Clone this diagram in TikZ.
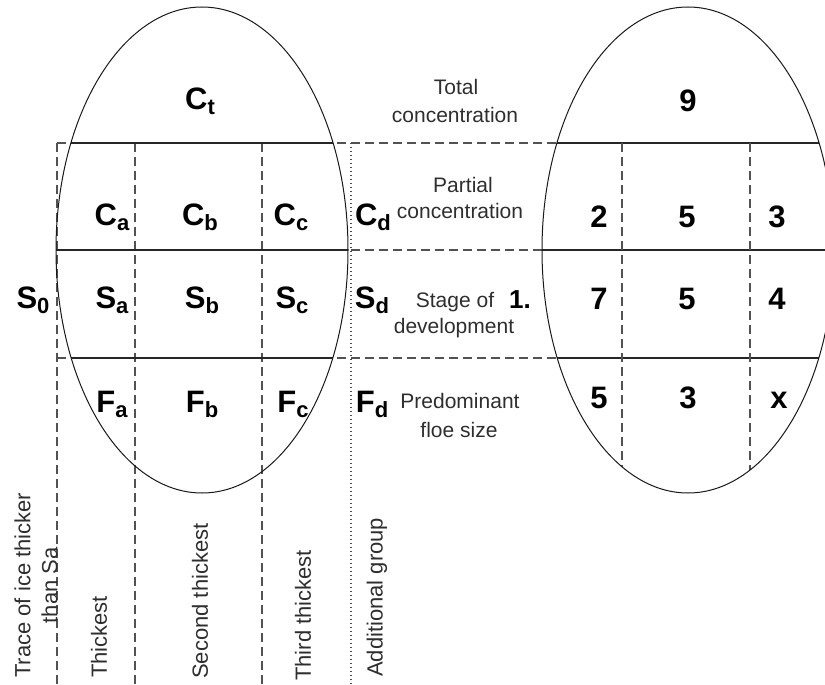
\documentclass[tikz,border=0pt]{standalone}
\usepackage{fontspec}
\setmainfont{Liberation Sans}
% bold symbol with a lowered bold subscript
\newcommand\icelabel[2]{{\fontsize{31}{31}\selectfont\bfseries #1}\raisebox{-5pt}{\fontsize{22}{22}\selectfont\bfseries #2}}
\begin{document}
\begin{tikzpicture}[x=1pt,y=-1pt,
  every node/.style={inner sep=0pt},
  oval/.style={draw=black!90,line width=1pt},
  chord/.style={draw=black!85,line width=1.4pt},
  gridline/.style={draw=black!68,line width=1.2pt,dash pattern=on 9pt off 5pt},
  dotline/.style={draw=black!70,line width=1.1pt,dash pattern=on 1pt off 3pt},
  sym/.style={anchor=base},
  bignum/.style={anchor=base,font=\fontsize{31}{31}\selectfont\bfseries},
  caption/.style={anchor=base,text=black!82,font=\fontsize{21}{26}\selectfont},
  vcaption/.style={rotate=90,anchor=west,align=center,text=black!82,font=\fontsize{22}{27}\selectfont}]
\useasboundingbox (0,0) rectangle (825,685);
\clip (0,0) rectangle (825,685);

% ellipse centres
\coordinate (L) at (202,250);
\coordinate (R) at (688,250);

% dashed grid
\draw[gridline] (57,143) -- (819,143);
\draw[gridline] (57,250) -- (825,250);
\draw[gridline] (57,358) -- (819,358);
\draw[gridline] (57,143) -- (57,685);
\draw[gridline] (135,143) -- (135,685);
\draw[gridline] (262,143) -- (262,685);
\draw[dotline] (351,143) -- (351,685);

% solid chords and column lines inside the ovals
\begin{scope}
  \clip (L) ellipse [x radius=146, y radius=243];
  \draw[chord] (0,143) -- (825,143);
  \draw[chord] (0,250) -- (825,250);
  \draw[chord] (0,358) -- (825,358);
\end{scope}
\begin{scope}
  \clip (R) ellipse [x radius=146, y radius=243];
  \draw[chord] (400,143) -- (825,143);
  \draw[chord] (400,250) -- (825,250);
  \draw[chord] (400,358) -- (825,358);
  \draw[gridline] (622,143) -- (622,500);
  \draw[gridline] (750,143) -- (750,500);
\end{scope}

\draw[oval] (L) ellipse [x radius=146, y radius=243];
\draw[oval] (R) ellipse [x radius=146, y radius=243];

% symbols in the left oval
\node[sym] (ct) at (200,110) {\icelabel{C}{t}};
\node[sym] (ca) at (112,225) {\icelabel{C}{a}};
\node[sym] (cb) at (200,225) {\icelabel{C}{b}};
\node[sym] (cc) at (291,225) {\icelabel{C}{c}};
\node[sym] (cd) at (373,225) {\icelabel{C}{d}};
\node[sym] (s0) at (33,308) {\icelabel{S}{0}};
\node[sym] (sa) at (112,308) {\icelabel{S}{a}};
\node[sym] (sb) at (202,308) {\icelabel{S}{b}};
\node[sym] (sc) at (292,308) {\icelabel{S}{c}};
\node[sym] (sd) at (372,308) {\icelabel{S}{d}};
\node[sym] (fa) at (112,412) {\icelabel{F}{a}};
\node[sym] (fb) at (202,412) {\icelabel{F}{b}};
\node[sym] (fc) at (293,412) {\icelabel{F}{c}};
\node[sym] (fd) at (372,412) {\icelabel{F}{d}};

% middle captions
\node[caption] (tot1) at (456,95) {Total};
\node[caption] (tot2) at (455,122) {concentration};
\node[caption] (par1) at (463,192) {Partial};
\node[caption] (par2) at (460,218) {concentration};
\node[caption] (stg1) at (455,307) {Stage of};
\node[anchor=base,font=\fontsize{26}{26}\selectfont\bfseries] (one) at (520,308) {1.};
\node[caption] (stg2) at (454,333) {development};
\node[caption] (pre1) at (460,408) {Predominant};
\node[caption] (pre2) at (459,437) {floe size};

% codes in the right oval
\node[bignum] (n9) at (688,111) {9};
\node[bignum] (c1) at (599,227) {2};
\node[bignum] (c2) at (687,227) {5};
\node[bignum] (c3) at (777,227) {3};
\node[bignum] (s1) at (599,309) {7};
\node[bignum] (s2) at (687,309) {5};
\node[bignum] (s3) at (777,309) {4};
\node[bignum] (f1) at (599,408) {5};
\node[bignum] (f2) at (688,408) {3};
\node[bignum] (f3) at (779,408) {x};

% column captions
\node[vcaption] (trace) at (36,678) {Trace of ice thicker\\than Sa};
\node[vcaption] (thick1) at (99,678) {Thickest};
\node[vcaption] (thick2) at (200,679) {Second thickest};
\node[vcaption] (thick3) at (303,681) {Third thickest};
\node[vcaption] (addg) at (377,677) {Additional group};
\end{tikzpicture}
\end{document}
